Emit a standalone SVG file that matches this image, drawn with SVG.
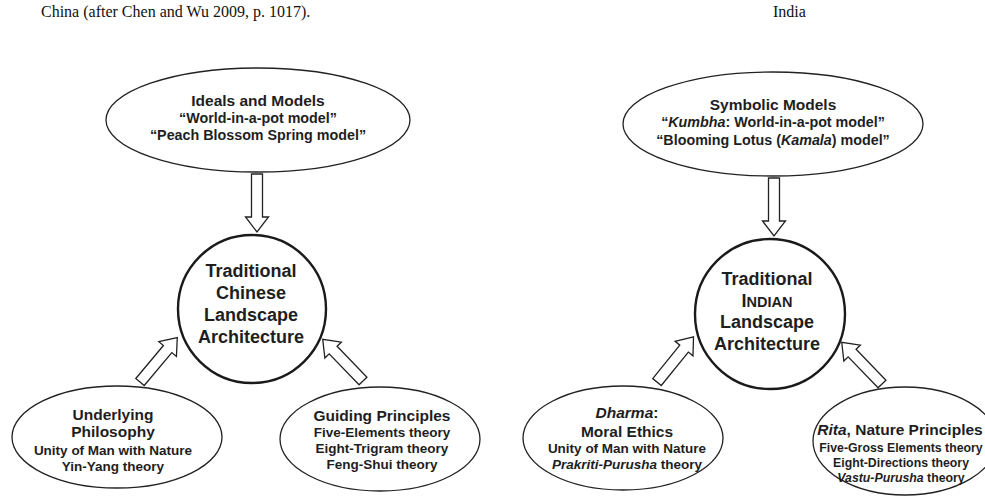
<svg xmlns="http://www.w3.org/2000/svg" xmlns:xlink="http://www.w3.org/1999/xlink" width="985" height="497" viewBox="0 0 985 497">
  <style>
    .cap { font-family: "Liberation Serif", "DejaVu Serif", serif; font-size: 16px; fill: #111; }
    .node { fill: #fff; stroke: #222; stroke-width: 1.3; }
    .hub { fill: #fff; stroke: #1a1a1a; stroke-width: 2.4; }
    .arrow { fill: #fff; stroke: #222; stroke-width: 1.3; stroke-linejoin: miter; }
    text.t { font-family: "Liberation Sans", Arial, sans-serif; font-weight: bold; fill: #1e1e1e; text-anchor: middle; }
    .h { font-size: 15.5px; }
    .s { font-size: 13.5px; }
    .xs { font-size: 12.3px; }
    .m { font-size: 14.3px; }
    .c { font-size: 18px; }
    .i { font-style: italic; }
  </style>
  <defs>
    <!-- hollow block arrow, tail at origin, pointing along +x -->
    <path id="blockArrow" d="M0,-5.5 H43 V-11.5 L58,0 L43,11.5 V5.5 H0 Z"/>
  </defs>

  <rect width="985" height="497" fill="#fff"/>

  <text class="cap" x="41" y="17">China (after Chen and Wu 2009, p. 1017).</text>
  <text class="cap" x="773" y="17">India</text>

  <!-- ===== China ===== -->
  <g id="china-ideals">
    <ellipse class="node" cx="258" cy="120" rx="152" ry="52"/>
    <text class="t h" x="258" y="106">Ideals and Models</text>
    <text class="t m" x="258" y="123">“World-in-a-pot model”</text>
    <text class="t m" x="258" y="140">“Peach Blossom Spring model”</text>
  </g>

  <g id="china-core">
    <circle class="hub" cx="252" cy="309" r="74"/>
    <text class="t c" x="251" y="277">Traditional</text>
    <text class="t c" x="251" y="299">Chinese</text>
    <text class="t c" x="251" y="321">Landscape</text>
    <text class="t c" x="251" y="343">Architecture</text>
  </g>

  <g id="china-philosophy">
    <ellipse class="node" cx="117" cy="437" rx="105" ry="51"/>
    <text class="t h" x="113" y="420">Underlying</text>
    <text class="t h" x="113" y="437">Philosophy</text>
    <text class="t s" x="113" y="455">Unity of Man with Nature</text>
    <text class="t s" x="113" y="471">Yin-Yang theory</text>
  </g>

  <g id="china-principles">
    <ellipse class="node" cx="380" cy="439" rx="100" ry="52"/>
    <text class="t h" x="382" y="421">Guiding Principles</text>
    <text class="t s" x="382" y="437">Five-Elements theory</text>
    <text class="t s" x="382" y="453">Eight-Trigram theory</text>
    <text class="t s" x="382" y="469">Feng-Shui theory</text>
  </g>

  <!-- ===== India ===== -->
  <g id="india-models">
    <ellipse class="node" cx="773" cy="124" rx="150" ry="52"/>
    <text class="t h" x="773" y="110">Symbolic Models</text>
    <text class="t m" x="773" y="127">“<tspan class="i">Kumbha</tspan>: World-in-a-pot model”</text>
    <text class="t m" x="773" y="145">“Blooming Lotus (<tspan class="i">Kamala</tspan>) model”</text>
  </g>

  <g id="india-core">
    <circle class="hub" cx="770" cy="314" r="75"/>
    <text class="t c" x="767" y="285">Traditional</text>
    <text class="t c" x="767" y="307">I<tspan font-size="14.5px">NDIAN</tspan></text>
    <text class="t c" x="767" y="328">Landscape</text>
    <text class="t c" x="767" y="350">Architecture</text>
  </g>

  <g id="india-dharma">
    <ellipse class="node" cx="623" cy="438" rx="100" ry="52"/>
    <text class="t h" x="627" y="418"><tspan class="i">Dharma</tspan>:</text>
    <text class="t h" x="627" y="437">Moral Ethics</text>
    <text class="t s" x="627" y="453">Unity of Man with Nature</text>
    <text class="t s" x="627" y="469"><tspan class="i">Prakriti-Purusha</tspan> theory</text>
  </g>

  <g id="india-rita">
    <ellipse class="node" cx="905" cy="441" rx="92" ry="54"/>
    <text class="t h" x="900" y="435"><tspan class="i">Rita</tspan>, Nature Principles</text>
    <text class="t xs" x="901" y="452">Five-Gross Elements theory</text>
    <text class="t xs" x="901" y="467">Eight-Directions theory</text>
    <text class="t xs" x="901" y="482"><tspan class="i">Vastu-Purusha</tspan> theory</text>
  </g>

  <!-- ===== connectors ===== -->
  <g id="connectors" class="arrow">
    <use xlink:href="#blockArrow" transform="translate(257,174) rotate(90)"/>
    <use xlink:href="#blockArrow" transform="translate(140,382) rotate(-50)"/>
    <use xlink:href="#blockArrow" transform="translate(363,381) rotate(-134)"/>
    <use xlink:href="#blockArrow" transform="translate(774,178) rotate(90)"/>
    <use xlink:href="#blockArrow" transform="translate(657,382) rotate(-51)"/>
    <use xlink:href="#blockArrow" transform="translate(882,384) rotate(-134)"/>
  </g>
</svg>
